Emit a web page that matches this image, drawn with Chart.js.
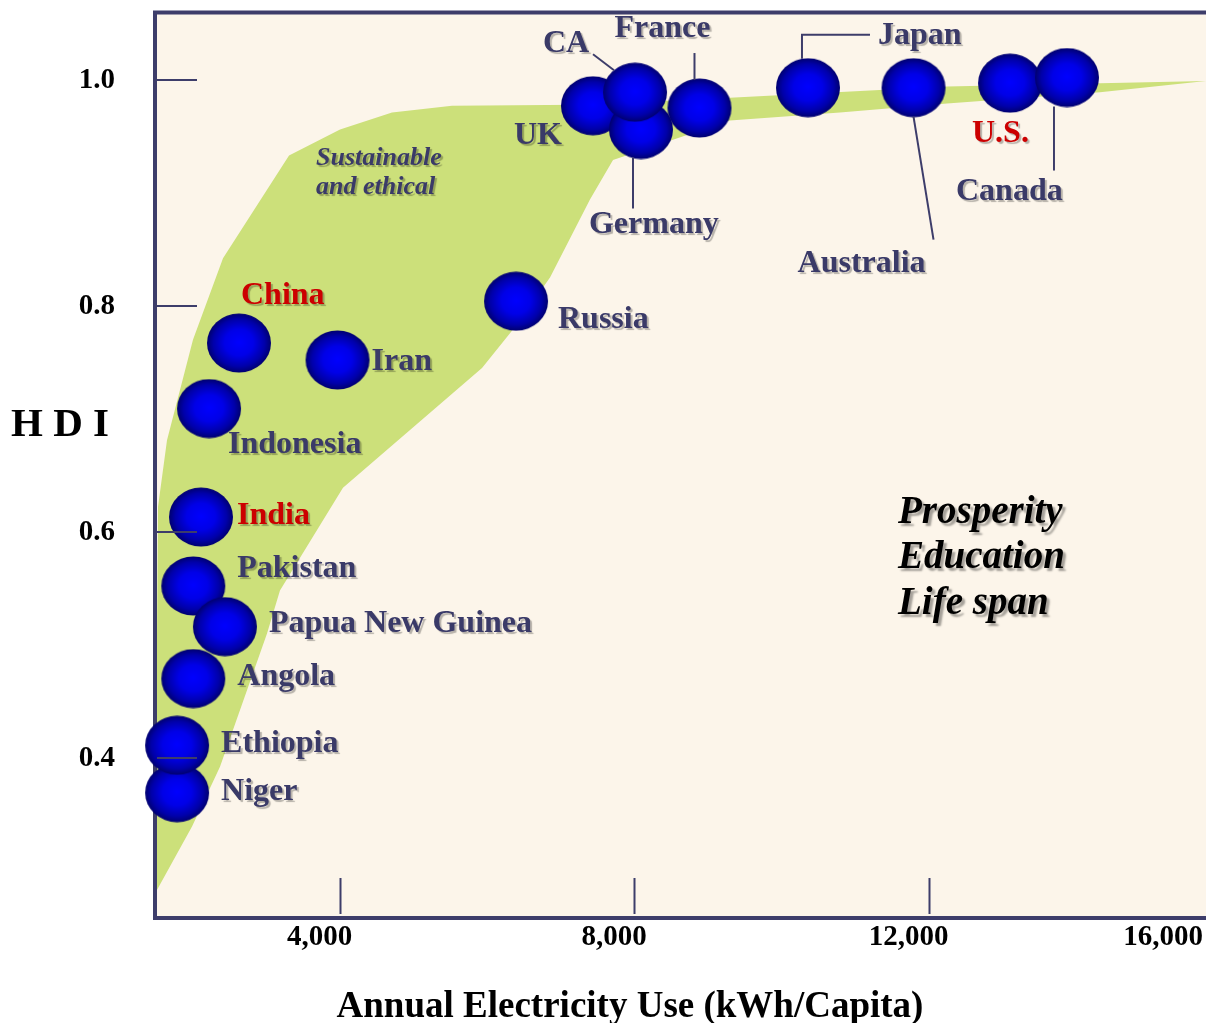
<!DOCTYPE html>
<html>
<head>
<meta charset="utf-8">
<title>HDI vs Annual Electricity Use</title>
<script src="https://cdn.jsdelivr.net/npm/chart.js@4/dist/chart.umd.min.js"></script>
<style>
  html, body { margin: 0; padding: 0; background: #ffffff; }
  #wrap { width: 1206px; height: 1023px; }
</style>
</head>
<body>
<div id="wrap"><canvas id="hdiChart" width="1206" height="1023"></canvas></div>
<script>
// Data
const countries = ['Niger', 'Ethiopia', 'Angola', 'Pakistan', 'Papua New Guinea', 'India', 'Indonesia',
    'China', 'Iran', 'Russia', 'UK', 'Germany', 'CA', 'France', 'Japan', 'Australia', 'U.S.', 'Canada'];
const kwhPerCapita = [1790, 1790, 2010, 2010, 2440, 2115, 2224, 2631, 3970, 6395, 7441, 8093, 8012, 8888,
    10362, 11796, 13107, 13881];
const hdiValues = [0.369, 0.411, 0.470, 0.552, 0.516, 0.613, 0.709, 0.767, 0.752, 0.804, 0.977, 0.956, 0.989,
    0.975, 0.993, 0.993, 0.997, 1.002];
const highlighted = ['China', 'India', 'U.S.'];

// "Sustainable and ethical" band outline (upper edge, then lower edge back)
const bandKwh = [1490, 1531, 1653, 2006, 2414, 3311, 4004, 4710, 5525, 7264, 9302, 12251, 14330, 15770,
    14330, 12251, 10797, 9302, 7713, 7400, 6857, 6354, 5933, 4044, 3188, 3012, 2373, 1993, 1517];
const bandHdi = [0.283, 0.622, 0.681, 0.770, 0.842, 0.933, 0.956, 0.971, 0.977, 0.978, 0.984, 0.994, 0.997, 0.999,
    0.989, 0.979, 0.971, 0.964, 0.929, 0.894, 0.825, 0.779, 0.745, 0.639, 0.548, 0.510, 0.392, 0.339, 0.283];

const hdiTicks = [0.4, 0.6, 0.8, 1.0];
const kwhTicks = [4000, 8000, 12000, 16000];

// Label placement: offset of the text (left, baseline) from the bubble centre
const labelOffsets = {
    'Niger': [44, 7], 'Ethiopia': [44, 7], 'Angola': [44, 6], 'Pakistan': [44, -9],
    'Papua New Guinea': [44, 5], 'India': [36, 7], 'Indonesia': [19, 44], 'China': [2, -39],
    'Iran': [34, 10], 'Russia': [42, 27], 'UK': [-79, 38], 'Germany': [-52, 103], 'CA': [-92, -40],
    'France': [-85, -71], 'Japan': [70, -44], 'Australia': [-116, 184], 'U.S.': [-38, 59], 'Canada': [-111, 122]
};
const leaderLines = {
    'CA': [[-42, -38], [-21, -22]],
    'France': [[-5, -55], [-5, -28]],
    'Japan': [[-6, -29], [-6, -53], [62, -53]],
    'Germany': [[-8, 28], [-8, 79]],
    'Australia': [[0, 29], [20, 152]],
    'Canada': [[-13, 29], [-13, 93]]
};

const frameColor = '#3d3d6a';
const labelColor = '#3a3a68';

// Shaded blue ball used as point style
function makeBubble() {
    const c = document.createElement('canvas');
    c.width = 66;
    c.height = 60;
    const g = c.getContext('2d');
    g.save();
    g.translate(33, 30);
    g.scale(1, 29.5 / 32);
    const grad = g.createRadialGradient(0, -1, 0, 0, 0, 32);
    grad.addColorStop(0, '#0000ff');
    grad.addColorStop(0.45, '#0000e8');
    grad.addColorStop(0.8, '#0000aa');
    grad.addColorStop(1, '#000070');
    g.beginPath();
    g.arc(0, 0, 32, 0, Math.PI * 2);
    g.fillStyle = grad;
    g.fill();
    g.restore();
    return c;
}

const slidePlugin = {
    id: 'slide',
    beforeDraw(chart) {
        const { ctx, chartArea: a } = chart;
        ctx.save();
        ctx.fillStyle = '#fcf5ea';
        ctx.fillRect(a.left, a.top, a.right - a.left, a.bottom - a.top);
        ctx.restore();
    },
    afterDatasetDraw(chart, args) {
        if (args.index !== 0) return;
        // frame drawn over the band but under the bubbles
        const { ctx, chartArea: a } = chart;
        ctx.save();
        ctx.strokeStyle = frameColor;
        ctx.lineWidth = 4;
        ctx.beginPath();
        ctx.moveTo(a.right + 2, a.top + 0.5);
        ctx.lineTo(a.left, a.top + 0.5);
        ctx.lineTo(a.left, a.bottom + 1);
        ctx.lineTo(a.right + 2, a.bottom + 1);
        ctx.stroke();
        ctx.restore();
    },
    afterDatasetsDraw(chart) {
        const { ctx, chartArea: a, scales: { x, y } } = chart;
        ctx.save();

        // tick marks
        ctx.strokeStyle = frameColor;
        ctx.lineWidth = 2;
        hdiTicks.forEach(v => {
            const py = Math.round(y.getPixelForValue(v));
            ctx.beginPath();
            ctx.moveTo(a.left + 2, py);
            ctx.lineTo(a.left + 42, py);
            ctx.stroke();
        });
        kwhTicks.forEach(v => {
            const px = Math.round(x.getPixelForValue(v)) + 0.5;
            if (px > a.right - 5) return;
            ctx.beginPath();
            ctx.moveTo(px, a.bottom - 39);
            ctx.lineTo(px, a.bottom - 3);
            ctx.stroke();
        });

        // tick labels
        ctx.fillStyle = '#000000';
        ctx.font = 'bold 29px "Liberation Serif", "Times New Roman", serif';
        ctx.textAlign = 'right';
        ctx.textBaseline = 'middle';
        hdiTicks.forEach(v => {
            ctx.fillText(v.toFixed(1), 115, y.getPixelForValue(v) + 1);
        });
        ctx.textAlign = 'center';
        kwhTicks.forEach(v => {
            const txt = v.toLocaleString('en-US');
            const w = ctx.measureText(txt).width;
            let px = x.getPixelForValue(v) - 20;
            px = Math.min(px, chart.width - 3 - w / 2);
            ctx.fillText(txt, px, a.bottom + 21);
        });

        // axis titles
        ctx.font = 'bold 41px "Liberation Serif", "Times New Roman", serif';
        ctx.textAlign = 'left';
        ctx.textBaseline = 'alphabetic';
        ctx.fillText('H D I', 11, 436);
        ctx.font = 'bold 37px "Liberation Serif", "Times New Roman", serif';
        ctx.textAlign = 'center';
        ctx.fillText('Annual Electricity Use (kWh/Capita)', 630, 1017);

        // leader lines
        ctx.strokeStyle = frameColor;
        ctx.lineWidth = 2;
        countries.forEach((name, i) => {
            const pts = leaderLines[name];
            if (!pts) return;
            const cx = x.getPixelForValue(kwhPerCapita[i]);
            const cy = y.getPixelForValue(hdiValues[i]);
            ctx.beginPath();
            pts.forEach((p, k) => {
                if (k === 0) ctx.moveTo(cx + p[0], cy + p[1]);
                else ctx.lineTo(cx + p[0], cy + p[1]);
            });
            ctx.stroke();
        });

        // country labels
        ctx.font = 'bold 32px "Liberation Serif", "Times New Roman", serif';
        ctx.textAlign = 'left';
        ctx.shadowColor = 'rgba(0, 0, 0, 0.28)';
        ctx.shadowOffsetX = 2;
        ctx.shadowOffsetY = 2;
        ctx.shadowBlur = 1;
        countries.forEach((name, i) => {
            const off = labelOffsets[name];
            const cx = x.getPixelForValue(kwhPerCapita[i]);
            const cy = y.getPixelForValue(hdiValues[i]);
            ctx.fillStyle = highlighted.includes(name) ? '#cc0000' : labelColor;
            ctx.fillText(name, cx + off[0], cy + off[1]);
        });

        // band caption
        ctx.fillStyle = labelColor;
        ctx.font = 'italic bold 26px "Liberation Serif", "Times New Roman", serif';
        ctx.fillText('Sustainable', 316, 165);
        ctx.fillText('and ethical', 316, 194);

        // right-hand caption
        ctx.fillStyle = '#000000';
        ctx.shadowColor = 'rgba(0, 0, 0, 0.35)';
        ctx.shadowOffsetX = 3;
        ctx.shadowOffsetY = 3;
        ctx.shadowBlur = 2;
        ctx.font = 'italic bold 39px "Liberation Serif", "Times New Roman", serif';
        ctx.fillText('Prosperity', 898, 523);
        ctx.fillText('Education', 898, 568);
        ctx.fillText('Life span', 898, 614);

        ctx.restore();
    }
};

const bubble = makeBubble();
const ctx = document.getElementById('hdiChart').getContext('2d');
const hdiChart = new Chart(ctx, {
    type: 'scatter',
    data: {
        datasets: [
            {
                label: 'band',
                type: 'line',
                data: bandKwh.map((v, i) => ({ x: v, y: bandHdi[i] })),
                borderWidth: 0,
                borderColor: 'rgba(0,0,0,0)',
                backgroundColor: '#cce07a',
                pointRadius: 0,
                tension: 0,
                fill: 'shape',
                order: 2
            },
            {
                label: 'countries',
                data: kwhPerCapita.map((v, i) => ({ x: v, y: hdiValues[i] })),
                pointStyle: bubble,
                pointRadius: 30,
                clip: false,
                order: 1
            }
        ]
    },
    options: {
        responsive: false,
        animation: false,
        events: [],
        layout: { autoPadding: false, padding: { left: 155, top: 12, right: 0, bottom: 106 } },
        scales: {
            x: { type: 'linear', min: 1490, max: 15770, display: false },
            y: { type: 'linear', min: 0.259, max: 1.06, display: false }
        },
        plugins: {
            legend: { display: false },
            tooltip: { enabled: false }
        }
    },
    plugins: [slidePlugin]
});
</script>
</body>
</html>
